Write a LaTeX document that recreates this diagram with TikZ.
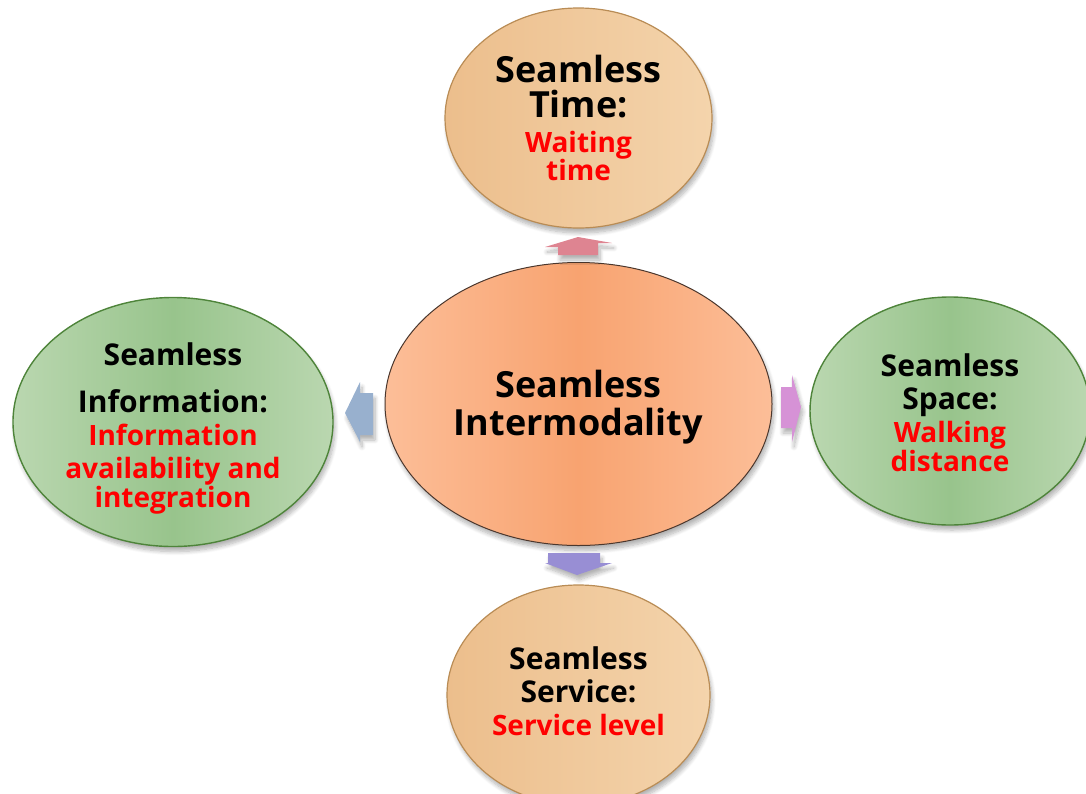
\documentclass[tikz,border=0pt]{standalone}
\usepackage{fontspec}
\setmainfont{Open Sans}
\usetikzlibrary{shapes.geometric,shadows,shadows.blur}
\definecolor{grnA}{RGB}{186,215,176}
\definecolor{grnB}{RGB}{152,196,140}
\definecolor{grnE}{RGB}{78,132,58}
\definecolor{orA}{RGB}{236,190,140}
\definecolor{orB}{RGB}{244,212,172}
\definecolor{orE}{RGB}{185,140,85}
\definecolor{salA}{RGB}{252,190,152}
\definecolor{salB}{RGB}{248,163,112}
\definecolor{salE}{RGB}{75,55,45}
\definecolor{arUp}{RGB}{222,132,145}
\definecolor{arLeft}{RGB}{152,176,206}
\definecolor{arRight}{RGB}{214,146,214}
\definecolor{arDown}{RGB}{152,142,212}
\definecolor{txtRed}{RGB}{255,0,0}
\newcommand\bigtxt[1]{{\fontsize{36}{40}\selectfont #1}}
\newcommand\redtxt[1]{{\color{txtRed}\fontsize{28}{33}\selectfont #1}}
\tikzset{
  softshadow/.style={blur shadow={shadow blur steps=8, shadow xshift=2pt, shadow yshift=-5pt, shadow opacity=30, shadow blur radius=4pt}},
  bubble/.style={ellipse, inner sep=0pt, softshadow},
  greenbubble/.style={bubble, draw=grnE, line width=1.4pt,
    left color=grnA, right color=grnA, middle color=grnB},
  orangebubble/.style={bubble, draw=orE, line width=1.2pt,
    left color=orA, right color=orB},
  centerbubble/.style={bubble, draw=salE, line width=1pt,
    left color=salA, right color=salA, middle color=salB},
  bubbletext/.style={inner sep=0pt, align=center, text=black,
    font=\bfseries\fontsize{30}{33}\selectfont},
  bigtext/.style={bubbletext, font=\bfseries\fontsize{36}{38}\selectfont},
  blockarrow/.style={softshadow}
}
\begin{document}
\begin{tikzpicture}[x=1pt,y=-1pt]
\useasboundingbox (0,0) rectangle (1086,793);
\clip (0,0) rectangle (1086,793);

% ellipses
\node[centerbubble, minimum width=387, minimum height=283] (core) at (578.5,404) {};
\node[orangebubble, minimum width=267, minimum height=220] (time) at (578.5,118) {};
\node[orangebubble, minimum width=263, minimum height=220] (service) at (578.5,695) {};
\node[greenbubble, minimum width=320, minimum height=249] (info) at (173,422) {};
\node[greenbubble, minimum width=280, minimum height=228] (space) at (950,411) {};

% texts
\node[bigtext] (coretext) at ([yshift=-3pt]core.center) {Seamless\\ Intermodality};
\node[bubbletext] (timetext) at (time.center)
  {\bigtxt{Seamless}\\[2pt]\bigtxt{Time:}\\[2pt]\redtxt{Waiting}\\[-5pt]\redtxt{time}};
\node[bubbletext] (servicetext) at ([yshift=4pt]service.center)
  {Seamless\\ Service:\\ \redtxt{Service level}};
\node[bubbletext] (infotext) at ([yshift=-6pt]info.center)
  {Seamless\\[14pt] Information:\\ \redtxt{Information}\\ \redtxt{availability and}\\[-4pt] \redtxt{integration}};
\node[bubbletext] (spacetext) at ([yshift=-2pt]space.center)
  {Seamless\\ Space:\\ \redtxt{Walking}\\[-4pt] \redtxt{distance}};

% block arrows
\fill[arUp, blockarrow] (545,247) -- (578,237) -- (612,243) -- (598,243)
  -- (598,255) -- (558,255) -- (558,247) -- cycle;
\fill[arDown, blockarrow] (548,553) -- (600,553) -- (600,563) -- (612,563)
  -- (577,575) -- (545,563) -- (548,563) -- cycle;
\fill[arLeft, blockarrow] (373,393) -- (373,435) -- (360,435) -- (360,442)
  -- (345,413) -- (360,382) -- (360,393) -- cycle;
\fill[arRight, blockarrow] (781,387) -- (792,387) -- (792,375) -- (801,407)
  -- (792,442) -- (792,428) -- (781,428) -- cycle;
\end{tikzpicture}
\end{document}
